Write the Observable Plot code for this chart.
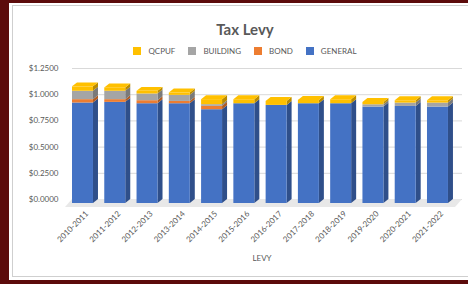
<!DOCTYPE html>
<html><head><meta charset="utf-8">
<script src="https://cdn.jsdelivr.net/npm/d3@7"></script>
<script src="https://cdn.jsdelivr.net/npm/@observablehq/plot@0.6"></script>
<style>
html,body{margin:0;padding:0;}
body{width:468px;height:284px;overflow:hidden;background:#5c0b0b;position:relative;font-family:Lato,"Open Sans",sans-serif;}
#panel{position:absolute;left:9px;top:3px;width:470px;height:277px;background:#fff;}
#frame{position:absolute;left:12px;top:5px;width:470px;height:272px;border:1px solid #cfcfcf;box-sizing:border-box;}
#title{position:absolute;left:0;width:490px;top:19px;text-align:center;font-weight:bold;font-size:15px;color:#595959;line-height:20px;}
#legend{position:absolute;left:0;width:490px;top:46px;display:flex;justify-content:center;font-size:8px;color:#595959;line-height:10px;}
.item{display:flex;align-items:center;margin:0 6.5px;}
.sw{width:8px;height:8px;margin-right:7px;}
#chart{position:absolute;left:0;top:60px;}
#xlabel{position:absolute;left:212px;width:100px;text-align:center;top:253px;font-size:8px;color:#595959;line-height:10px;}
</style></head>
<body>
<div id="panel"></div>
<div id="frame"></div>
<div id="title">Tax Levy</div>
<div id="legend"></div>
<div id="chart"></div>
<div id="xlabel">LEVY</div>
<script>
// ---- data ----
const levies = ["2010-2011","2011-2012","2012-2013","2013-2014","2014-2015","2015-2016","2016-2017","2017-2018","2018-2019","2019-2020","2020-2021","2021-2022"];
const general  = [0.959,0.965,0.952,0.952,0.895,0.952,0.936,0.952,0.952,0.920,0.926,0.920];
const bond     = [0.032,0.026,0.029,0.022,0.032,0,0,0,0,0,0,0];
const building = [0.080,0.080,0.064,0.058,0.016,0,0,0,0,0.022,0.032,0.038];
const qcpuf    = [0.042,0.032,0.025,0.022,0.048,0.038,0.038,0.032,0.038,0.022,0.022,0.022];
const legendOrder = ["QCPUF","BUILDING","BOND","GENERAL"];
const stackOrder = ["GENERAL","BOND","BUILDING","QCPUF"];
const yTicks = [0,0.25,0.5,0.75,1.0,1.25];

// ---- styling ----
const seriesValues = {GENERAL: general, BOND: bond, BUILDING: building, QCPUF: qcpuf};
const frontColor = {GENERAL:"#4472c4", BOND:"#ed7d31", BUILDING:"#a5a5a5", QCPUF:"#ffc000"};
const sideColor  = {GENERAL:"#2f4f8a", BOND:"#b05c22", BUILDING:"#7a7a7a", QCPUF:"#b98b00"};
const HW = 0.325;      // half bar width (x units)
const DX = 0.155;      // 3D depth horizontal (x units)
const DY = 0.038;      // 3D depth vertical (y units)
const FX = 0.217, FY = 0.076; // floor depth
const xDomain = [-0.325, levies.length - 1 + 0.76];

// legend
const lg = document.getElementById("legend");
for (const s of legendOrder) {
  const it = document.createElement("div"); it.className = "item";
  const sw = document.createElement("div"); sw.className = "sw"; sw.style.background = frontColor[s];
  const tx = document.createElement("span"); tx.textContent = s;
  it.appendChild(sw); it.appendChild(tx); lg.appendChild(it);
}

// build stacked segments
const segments = [];
levies.forEach((lv, i) => {
  let base = 0;
  stackOrder.forEach((s) => {
    const v = seriesValues[s][i];
    if (v > 0) segments.push({i, levy: lv, series: s, y1: base, y2: base + v});
    base += v;
  });
});
const tops = levies.map((lv, i) => {
  const segs = segments.filter(d => d.i === i);
  return segs[segs.length - 1];
});

const sidePts = segments.flatMap(d => [
  {key: d.series + d.i, series: d.series, x: d.i + HW, lo: d.y1, hi: d.y2},
  {key: d.series + d.i, series: d.series, x: d.i + HW + DX, lo: d.y1 + DY, hi: d.y2 + DY}
]);
const topPts = tops.flatMap(d => [
  {key: "t" + d.i, series: d.series, x: d.i - HW, lo: d.y2, hi: d.y2},
  {key: "t" + d.i, series: d.series, x: d.i - HW + DX, lo: d.y2, hi: d.y2 + DY},
  {key: "t" + d.i, series: d.series, x: d.i + HW, lo: d.y2, hi: d.y2 + DY},
  {key: "t" + d.i, series: d.series, x: d.i + HW + DX, lo: d.y2 + DY, hi: d.y2 + DY}
]);
const floorPts = [
  {x: xDomain[0] - FX, lo: -FY, hi: -FY},
  {x: xDomain[0], lo: -FY, hi: 0},
  {x: xDomain[1] - FX, lo: -FY, hi: 0},
  {x: xDomain[1], lo: 0, hi: 0}
];

const marks = [
  Plot.gridY(yTicks, {stroke: "#d9d9d9", strokeOpacity: 1}),
  Plot.areaY(floorPts, {x: "x", y1: "lo", y2: "hi", fill: "#e8e8e8"})
];
for (const s of stackOrder) {
  marks.push(Plot.areaY(sidePts.filter(d => d.series === s), {x: "x", y1: "lo", y2: "hi", z: "key", fill: sideColor[s], dy: 4}));
}
for (const s of stackOrder) {
  const pts = topPts.filter(d => d.series === s);
  if (pts.length) marks.push(Plot.areaY(pts, {x: "x", y1: "lo", y2: "hi", z: "key", fill: frontColor[s], dy: 4}));
}
for (const s of stackOrder) {
  marks.push(Plot.rectY(segments.filter(d => d.series === s), {x1: d => d.i - HW, x2: d => d.i + HW, y1: "y1", y2: "y2", fill: frontColor[s], dy: 4}));
}
marks.push(Plot.axisY(yTicks, {tickFormat: d3.format("$.4f"), tickSize: 0, tickPadding: 14, label: null}));
marks.push(Plot.axisX(levies.map((_, i) => i), {tickFormat: i => levies[i], tickRotate: -45, tickSize: 0, tickPadding: 13, label: null, dx: 4}));

const chart = Plot.plot({
  width: 468, height: 220,
  marginLeft: 72, marginRight: 6, marginTop: 8, marginBottom: 81,
  x: {domain: xDomain},
  y: {domain: [0, 1.25]},
  style: {fontFamily: "Lato, 'Open Sans', sans-serif", fontSize: "8px", color: "#595959", background: "transparent", overflow: "visible"},
  marks
});
document.getElementById("chart").appendChild(chart);
</script>
</body></html>
